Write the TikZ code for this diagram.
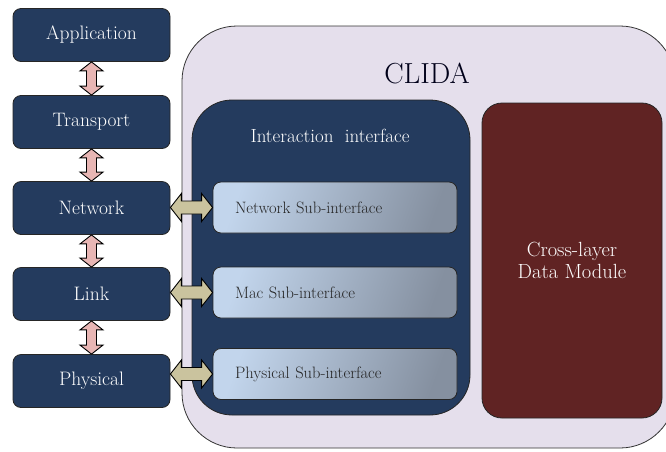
\documentclass[tikz,border=0pt]{standalone}
\usepackage{tikz}
\usetikzlibrary{calc}
\definecolor{layerblue}{HTML}{243B5E}
\definecolor{clidabg}{HTML}{E5DFEC}
\definecolor{modbrown}{HTML}{602323}
\definecolor{linkpink}{HTML}{E8B6B4}
\definecolor{linkkhaki}{HTML}{CAC39E}
\definecolor{subtop}{HTML}{C2D5EC}
\definecolor{subbot}{HTML}{8590A0}
\tikzset{
    layer/.style={
           rectangle, rounded corners=8pt,
           draw=black!85, thick,
           fill=layerblue,
           minimum width=157pt, minimum height=53pt,
           text=white, font=\fontsize{19.5}{22}\selectfont,
           },
}
\tikzset{
    subbox/.style={
           rectangle, rounded corners=8pt,
           draw=black!85, thick,
           left color=subtop, right color=subbot, shading angle=70,
           minimum height=51pt, text width=200pt, inner xsep=22pt,
           align=left, text=black!85, font=\fontsize{16.5}{19}\selectfont,
           },
}
\tikzset{
    vlink/.style={
           draw=black, fill=linkpink, line width=0.9pt,
           to path={let \p1=(\tikztostart), \p2=(\tikztotarget) in
              (\x1,\y1) -- (\x1+11.5pt,\y1-9pt) -- (\x1+5pt,\y1-9pt) -- (\x1+5pt,\y2+9pt)
              -- (\x1+11.5pt,\y2+9pt) -- (\x1,\y2) -- (\x1-11.5pt,\y2+9pt) -- (\x1-5pt,\y2+9pt)
              -- (\x1-5pt,\y1-9pt) -- (\x1-11.5pt,\y1-9pt) -- cycle},
           },
}
\tikzset{
    hlink/.style={
           draw=black, fill=linkkhaki, line width=0.9pt,
           to path={let \p1=(\tikztostart), \p2=(\tikztotarget) in
              (\x1,\y1) -- (\x1+11pt,\y1+14pt) -- (\x1+11pt,\y1+6.5pt) -- (\x2-11pt,\y1+6.5pt)
              -- (\x2-11pt,\y1+14pt) -- (\x2,\y1) -- (\x2-11pt,\y1-14pt) -- (\x2-11pt,\y1-6.5pt)
              -- (\x1+11pt,\y1-6.5pt) -- (\x1+11pt,\y1-14pt) -- cycle},
           },
}

\begin{document}
\begin{tikzpicture}[x=1pt,y=-1pt]
\useasboundingbox (0,0) rectangle (666,451);
\clip (0,0) rectangle (666,451);

\node[rectangle, rounded corners=55pt, draw=black!80, thick, fill=clidabg,
      minimum width=493pt, minimum height=422pt] (clida) at (428.5,237) {};
\node[text=black!90!blue, font=\fontsize{29}{34}\selectfont] (clidatitle) at (427,73) {CLIDA};

\node[rectangle, rounded corners=40pt, draw=black!85, thick, fill=layerblue,
      minimum width=278pt, minimum height=315pt] (inter) at (331,257.5) {};
\node[text=white, font=\fontsize{19}{24}\selectfont] (intertitle) at (330,136) {Interaction\ \ interface};

\node[rectangle, rounded corners=20pt, draw=black!85, thick, fill=modbrown,
      minimum width=180pt, minimum height=315pt, align=center, text=white,
      font=\fontsize{20.5}{22}\selectfont] (cldm) at (572,260.5) {Cross-layer\\Data Module};

\node[subbox] (netsub) at (335,207.5) {Network Sub-interface};
\node[subbox] (macsub) at (335,292.5) {Mac Sub-interface};
\node[subbox] (physub) at (335,374) {Physical Sub-interface};

\node[layer] (app) at (91.5,35) {Application};
\node[layer] (trans) at (91.5,122) {Transport};
\node[layer] (net) at (91.5,208) {Network};
\node[layer] (link) at (91.5,294) {Link};
\node[layer] (phy) at (91.5,381) {Physical};

\draw[vlink] (app.south) to (trans.north);
\draw[vlink] (trans.south) to (net.north);
\draw[vlink] (net.south) to (link.north);
\draw[vlink] (link.south) to (phy.north);

\draw[hlink] (net.east |- netsub.west) to (netsub.west);
\draw[hlink] (link.east |- macsub.west) to (macsub.west);
\draw[hlink] (phy.east |- physub.west) to (physub.west);
\end{tikzpicture}
\end{document}
